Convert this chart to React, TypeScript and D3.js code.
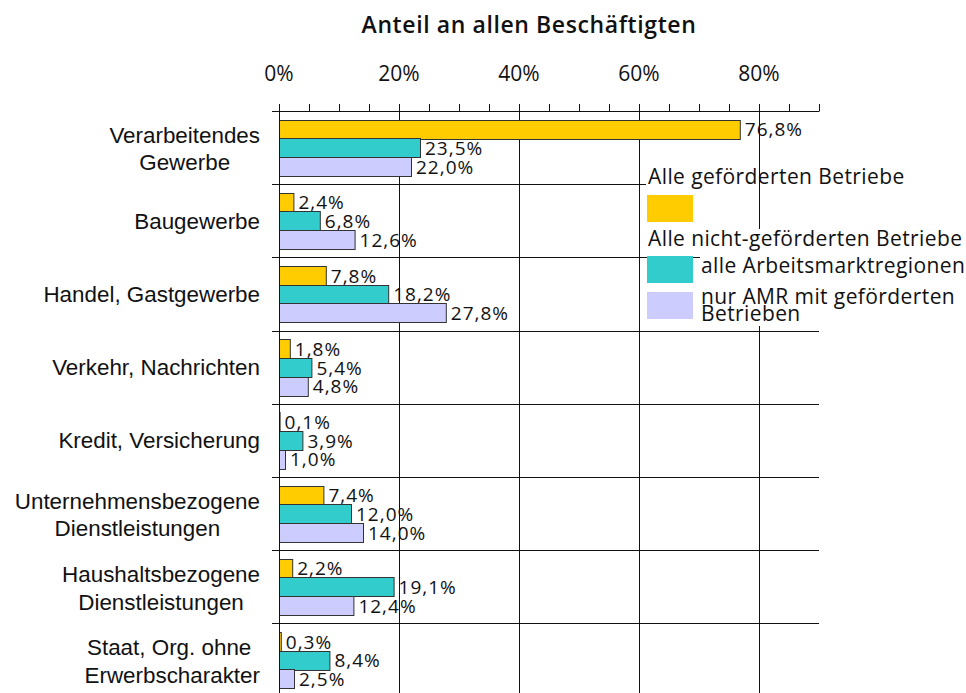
import React, { useEffect, useRef } from 'react';
import * as d3 from 'd3';

const categories: string[][] = [
  ['Verarbeitendes', 'Gewerbe'],
  ['Baugewerbe'],
  ['Handel, Gastgewerbe'],
  ['Verkehr, Nachrichten'],
  ['Kredit, Versicherung'],
  ['Unternehmensbezogene', 'Dienstleistungen'],
  ['Haushaltsbezogene', 'Dienstleistungen'],
  ['Staat, Org. ohne ', 'Erwerbscharakter'],
];
const gefoerdert = [76.8, 2.4, 7.8, 1.8, 0.1, 7.4, 2.2, 0.3];
const alleAMR = [23.5, 6.8, 18.2, 5.4, 3.9, 12.0, 19.1, 8.4];
const nurAMR = [22.0, 12.6, 27.8, 4.8, 1.0, 14.0, 12.4, 2.5];
const seriesKeys = ['gef', 'alle', 'nur'];
const seriesValues = [gefoerdert, alleAMR, nurAMR];
const seriesColors = ['#FFCC00', '#33CCCC', '#CCCCFF'];
const xTicks = [0, 20, 40, 60, 80];
const minorTicks = d3.range(0, 91, 5);
const titleText = 'Anteil an allen Beschäftigten';
const legendHeader1 = 'Alle geförderten Betriebe';
const legendHeader2 = 'Alle nicht-geförderten Betriebe';
const legendItem2 = ['alle Arbeitsmarktregionen'];
const legendItem3 = ['nur AMR mit geförderten', 'Betrieben'];

const W = 966;
const H = 693;
const HUM = "'Open Sans', 'Noto Sans', sans-serif";
const ARIAL = "'Liberation Sans', Arial, sans-serif";

export default function App() {
  const ref = useRef<SVGSVGElement | null>(null);

  useEffect(() => {
    const svg = d3.select(ref.current);
    svg.selectAll('*').remove();

    const x = d3.scaleLinear().domain([0, 90]).range([279, 819]);
    const y = d3
      .scaleBand<number>()
      .domain(d3.range(categories.length))
      .range([111, 111 + categories.length * 73.2])
      .padding(0);
    const inner = d3
      .scaleBand<string>()
      .domain(seriesKeys)
      .range([0, y.bandwidth()])
      .paddingInner(0)
      .paddingOuter(0.457);
    const fmt = (v: number) => d3.format('.1f')(v).replace('.', ',') + '%';
    const ink = '#111';

    const g = svg.append('g');

    // title
    g.append('text')
      .attr('x', 529)
      .attr('y', 33)
      .attr('text-anchor', 'middle')
      .style('font-family', HUM)
      .style('font-weight', 600)
      .style('font-size', '23px')
      .style('letter-spacing', '0.6px')
      .attr('fill', ink)
      .text(titleText);

    // tick labels
    g.selectAll('text.tl')
      .data(xTicks)
      .enter()
      .append('text')
      .attr('class', 'tl')
      .attr('x', (d) => x(d))
      .attr('y', 81)
      .attr('text-anchor', 'middle')
      .style('font-family', HUM)
      .style('font-size', '21px')
      .attr('fill', ink)
      .text((d) => d + '%');

    // horizontal separators
    const bounds = d3.range(1, categories.length).map((i) => y(i)!);
    g.selectAll('line.sep')
      .data(bounds)
      .enter()
      .append('line')
      .attr('x1', 272)
      .attr('x2', x(90))
      .attr('y1', (d) => Math.round(d) + 0.5)
      .attr('y2', (d) => Math.round(d) + 0.5)
      .attr('stroke', ink)
      .attr('stroke-width', 1);

    // white box behind first legend header
    g.append('rect').attr('x', 646).attr('y', 166).attr('width', 320).attr('height', 24).attr('fill', '#fff');

    // vertical gridlines
    g.selectAll('line.grid')
      .data(xTicks.filter((t) => t > 0))
      .enter()
      .append('line')
      .attr('x1', (d) => Math.round(x(d)) + 0.5)
      .attr('x2', (d) => Math.round(x(d)) + 0.5)
      .attr('y1', 111)
      .attr('y2', H + 5)
      .attr('stroke', ink)
      .attr('stroke-width', 1);

    // white boxes behind legend
    g.append('rect').attr('x', 646).attr('y', 229).attr('width', 320).attr('height', 23).attr('fill', '#fff');
    g.append('rect').attr('x', 700).attr('y', 252).attr('width', 266).attr('height', 74).attr('fill', '#fff');

    // top axis
    g.append('line')
      .attr('x1', 272)
      .attr('x2', x(90))
      .attr('y1', 111.5)
      .attr('y2', 111.5)
      .attr('stroke', ink);
    g.selectAll('line.tick')
      .data(minorTicks)
      .enter()
      .append('line')
      .attr('x1', (d) => Math.round(x(d)) + 0.5)
      .attr('x2', (d) => Math.round(x(d)) + 0.5)
      .attr('y1', 104)
      .attr('y2', 111.5)
      .attr('stroke', ink);

    // bars
    seriesKeys.forEach((k, si) => {
      const vals = seriesValues[si];
      g.selectAll('rect.b' + k)
        .data(vals)
        .enter()
        .append('rect')
        .attr('x', x(0) + 0.5)
        .attr('y', (_d, i) => Math.round(y(i)! + inner(k)!) + 0.5)
        .attr('width', (d) => Math.max(0, x(d) - x(0)))
        .attr('height', Math.round(inner.bandwidth()))
        .attr('fill', seriesColors[si])
        .attr('stroke', '#333')
        .attr('stroke-width', 1);
    });

    // left axis
    g.append('line')
      .attr('x1', 279.5)
      .attr('x2', 279.5)
      .attr('y1', 104)
      .attr('y2', H + 5)
      .attr('stroke', ink);

    // value labels
    seriesKeys.forEach((k, si) => {
      const vals = seriesValues[si];
      g.selectAll('text.v' + k)
        .data(vals)
        .enter()
        .append('text')
        .attr('x', (d) => x(d) + 5)
        .attr('y', (_d, i) => y(i)! + inner(k)! + inner.bandwidth() - 2)
        .style('font-family', HUM)
        .style('font-size', '19px')
        .style('letter-spacing', '1px')
        .attr('fill', ink)
        .text((d) => fmt(d));
    });

    // category labels
    categories.forEach((lines, i) => {
      const c = y(i)! + y.bandwidth() / 2;
      const texts = lines.map((ln, li) => {
        const t = g
          .append('text')
          .style('font-family', ARIAL)
          .style('font-size', '22.4px')
          .style('white-space', 'pre')
          .attr('fill', ink)
          .attr('text-anchor', 'middle')
          .attr('y', lines.length === 1 ? c + 7.8 : c - 4.8 + li * 27.6)
          .text(ln);
        return t;
      });
      const widths = texts.map((t) => (t.node() as SVGTextElement).getComputedTextLength());
      const maxW = Math.max(...widths);
      texts.forEach((t) => t.attr('x', 260 - maxW / 2));
    });

    // legend
    const leg = g.append('g').style('font-family', HUM).style('font-size', '21px').attr('fill', ink);
    leg.append('text').attr('x', 648).attr('y', 184).style('letter-spacing', '0.4px').text(legendHeader1);
    leg.append('rect').attr('x', 647).attr('y', 195).attr('width', 46).attr('height', 27).attr('fill', seriesColors[0]);
    leg.append('text').attr('x', 648).attr('y', 246).style('letter-spacing', '0.4px').text(legendHeader2);
    leg.append('rect').attr('x', 647).attr('y', 256).attr('width', 46).attr('height', 27).attr('fill', seriesColors[1]);
    legendItem2.forEach((ln, li) => {
      leg.append('text').attr('x', 701).attr('y', 273 + li * 17).style('letter-spacing', '0.4px').text(ln);
    });
    leg.append('rect').attr('x', 647).attr('y', 292).attr('width', 46).attr('height', 27).attr('fill', seriesColors[2]);
    legendItem3.forEach((ln, li) => {
      leg.append('text').attr('x', 701).attr('y', 304 + li * 16.7).style('letter-spacing', '0.4px').text(ln);
    });
  }, []);

  return (
    <svg
      ref={ref}
      width={W}
      height={H}
      style={{ position: 'absolute', left: 0, top: 0, background: '#fff', display: 'block' }}
    />
  );
}
